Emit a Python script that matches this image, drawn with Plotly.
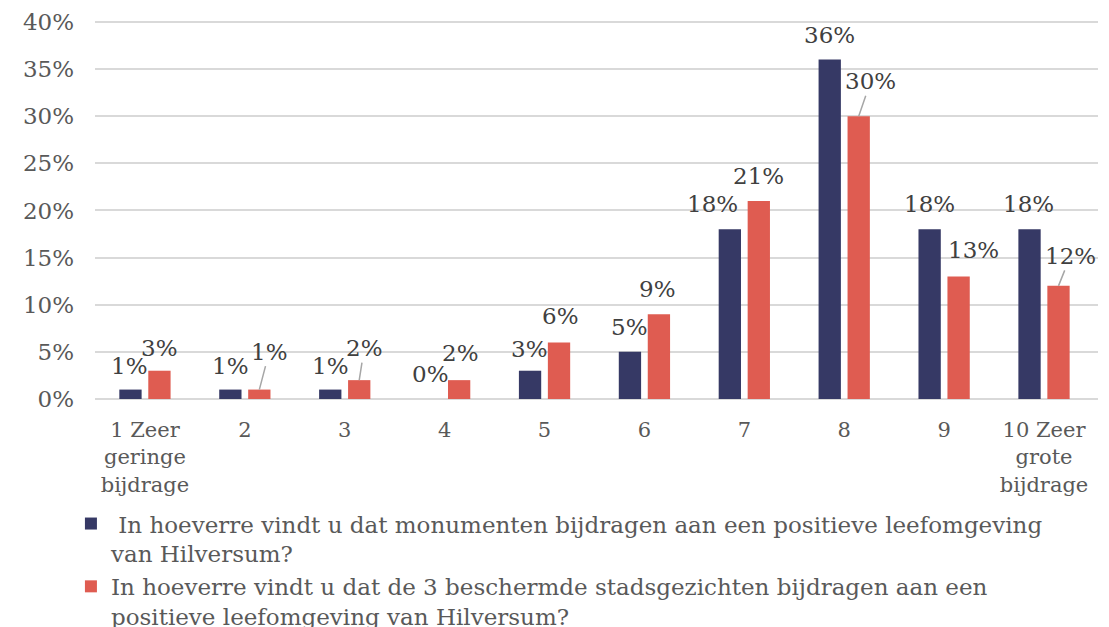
import plotly.graph_objects as go

# ---- data ----
categories = ["1 Zeer<br>geringe<br>bijdrage", "2", "3", "4", "5", "6", "7", "8", "9",
              "10 Zeer<br>grote<br>bijdrage"]
monumenten = [1, 1, 1, 0, 3, 5, 18, 36, 18, 18]
stadsgezichten = [3, 1, 2, 2, 6, 9, 21, 30, 13, 12]
y_ticks = [0, 5, 10, 15, 20, 25, 30, 35, 40]
y_tick_labels = ["0%", "5%", "10%", "15%", "20%", "25%", "30%", "35%", "40%"]
name_monumenten = "\u00a0In hoeverre vindt u dat monumenten bijdragen aan een positieve leefomgeving<br>van Hilversum?"
name_stads = "In hoeverre vindt u dat de 3 beschermde stadsgezichten bijdragen aan een<br>positieve leefomgeving van Hilversum?"

# ---- style ----
NAVY = "#363965"
RED = "#DF5C51"
GRID = "#D9D9D9"
TXT = "#595959"
LBL = "#404040"
LEADER = "#A6A6A6"
FONT = "DejaVu Serif"
BARGAP = 0.42
BARGROUPGAP = 0.23

# label offsets (pixels) relative to bar top centre, and whether a leader line is drawn
navy_dx = [-1, 0, 0, 0, -1, 0, -17, 0, 0, -1]
navy_dy = [-24, -24, -24, -25, -22, -25, -25, -25, -25, -25]
red_dx = [0, 10, 5, 1, 1, -1, 0, 12, 15, 12]
red_dy = [-23, -38, -32, -27, -26, -25, -25, -35, -26, -30]
red_leader = [False, True, True, False, False, False, False, True, False, True]

fig = go.Figure()
fig.add_trace(go.Bar(x=categories, y=monumenten, name=name_monumenten,
                     marker=dict(color=NAVY, line=dict(width=0))))
fig.add_trace(go.Bar(x=categories, y=stadsgezichten, name=name_stads,
                     marker=dict(color=RED, line=dict(width=0))))

off = (1 - BARGAP) / 4
annotations = []
for i in range(len(categories)):
    annotations.append(dict(
        x=i - off, y=monumenten[i], xref="x", yref="y",
        text=f"{monumenten[i]}%", showarrow=True, arrowhead=0, arrowwidth=1,
        arrowcolor="rgba(0,0,0,0)", ax=navy_dx[i], ay=navy_dy[i],
        font=dict(family=FONT, size=23, color=LBL)))
    annotations.append(dict(
        x=i + off, y=stadsgezichten[i], xref="x", yref="y",
        text=f"{stadsgezichten[i]}%", showarrow=True, arrowhead=0, arrowwidth=1.5,
        arrowcolor=LEADER if red_leader[i] else "rgba(0,0,0,0)",
        ax=red_dx[i], ay=red_dy[i],
        font=dict(family=FONT, size=23, color=LBL)))

# the page body has an 8px margin, so the figure is sized to fit inside the window
fig.update_layout(
    width=1101, height=619,
    margin=dict(l=87, r=11, t=12, b=228, autoexpand=False),
    paper_bgcolor="white", plot_bgcolor="white",
    barmode="group", bargap=BARGAP, bargroupgap=BARGROUPGAP,
    font=dict(family=FONT, size=23, color=TXT),
    annotations=annotations,
    showlegend=True,
    legend=dict(orientation="v", x=-0.024, xanchor="left", y=-0.272, yanchor="top",
                valign="top", traceorder="normal",
                font=dict(family=FONT, size=23, color=TXT),
                bgcolor="rgba(0,0,0,0)"),
)
fig.update_xaxes(type="category", showgrid=False, showline=False, ticks="",
                 automargin=False, ticklabelstandoff=16,
                 tickfont=dict(family=FONT, size=21, color=TXT), tickangle=0)
fig.update_yaxes(range=[0, 40.2], tickvals=y_ticks, ticktext=y_tick_labels,
                 showgrid=True, automargin=False, ticklabelstandoff=20,
                 gridcolor=GRID, gridwidth=1.5, zeroline=True, zerolinecolor=GRID,
                 zerolinewidth=1.5, showline=False, ticks="",
                 tickfont=dict(family=FONT, size=23, color=TXT))

fig.write_html("out.html")
